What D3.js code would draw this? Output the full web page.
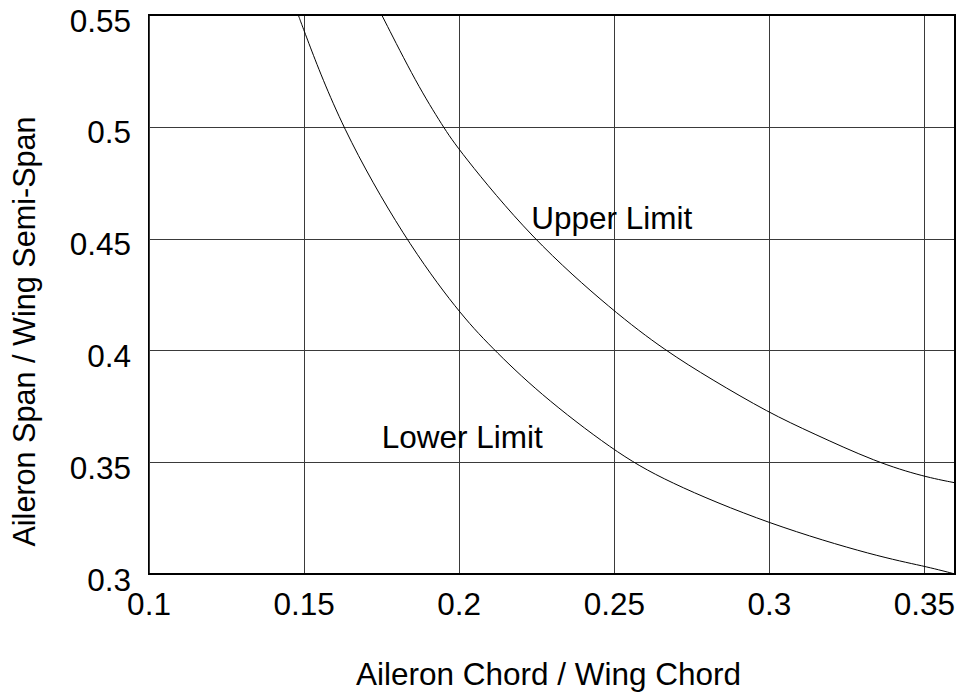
<!DOCTYPE html>
<meta charset="utf-8">
<style>
body { margin: 0; background: #fff; }
svg { display: block; }
text { font-family: "Liberation Sans", Arial, Helvetica, sans-serif; fill: #000; }
.grid line { stroke: #3a3a3a; stroke-width: 1px; shape-rendering: crispEdges; }
.grid path { display: none; }
.curve { fill: none; stroke: #000; stroke-width: 1px; }
.frame { fill: none; stroke: #000; stroke-width: 1.5px; shape-rendering: crispEdges; }
</style>
<svg width="956" height="692"></svg>
<script src="https://cdn.jsdelivr.net/npm/d3@7"></script>
<script>

// values
var xTicks = [0.1, 0.15, 0.2, 0.25, 0.3, 0.35],
    xTickLabels = ["0.1", "0.15", "0.2", "0.25", "0.3", "0.35"];
var yTicks = [0.3, 0.35, 0.4, 0.45, 0.5, 0.55],
    yTickLabels = ["0.3", "0.35", "0.4", "0.45", "0.5", "0.55"];

var lowerX = [0.1483, 0.15, 0.162, 0.1825, 0.2, 0.2101, 0.2256, 0.25, 0.2664, 0.3, 0.3352, 0.35, 0.36];
var lowerY = [0.55, 0.5434, 0.50, 0.45, 0.4170, 0.402, 0.3811, 0.355, 0.3416, 0.3222, 0.3077, 0.3036, 0.30];

var upperX = [0.1752, 0.1865, 0.195, 0.2, 0.2234, 0.25, 0.2665, 0.2814, 0.3, 0.3137, 0.3346, 0.35, 0.36];
var upperY = [0.55, 0.5191, 0.50, 0.4896, 0.45, 0.4173, 0.40, 0.3871, 0.3721, 0.3632, 0.35, 0.3435, 0.3408];

var labelNames = ["Upper Limit", "Lower Limit"],
    labelX = [0.2234, 0.1752],
    labelY = [0.4542, 0.3562];

var svg = d3.select("svg"),
    margin = {top: 15, right: 1, bottom: 118, left: 148.5},
    width = +svg.attr("width") - margin.left - margin.right,
    height = +svg.attr("height") - margin.top - margin.bottom,
    g = svg.append("g").attr("transform", "translate(" + margin.left + "," + margin.top + ")");

var x = d3.scaleLinear().domain([0.1, 0.36]).range([0, width]);
var y = d3.scaleLinear().domain([0.3, 0.55]).range([height, 0]);

// grid lines with tick labels
var xAxis = g.append("g")
    .attr("class", "grid")
    .attr("transform", "translate(0," + height + ")")
    .call(d3.axisBottom(x)
      .tickValues(xTicks)
      .tickSize(-height)
      .tickFormat(function(d, i) { return xTickLabels[i]; }));
xAxis.selectAll("text")
    .attr("y", 41)
    .attr("dy", 0)
    .style("font-size", "31.5px");

var yAxis = g.append("g")
    .attr("class", "grid")
    .call(d3.axisLeft(y)
      .tickValues(yTicks)
      .tickSize(-width)
      .tickFormat(function(d, i) { return yTickLabels[i]; }));
yAxis.selectAll("text")
    .attr("x", -17.5)
    .attr("dy", 0)
    .attr("y", 16)
    .style("font-size", "31.5px");

g.append("clipPath").attr("id", "clip")
  .append("rect").attr("width", width).attr("height", height);

var line = d3.line()
    .x(function(d) { return x(d[0]); })
    .y(function(d) { return y(d[1]); })
    .curve(d3.curveBasis);

g.append("path")
    .attr("class", "curve")
    .attr("clip-path", "url(#clip)")
    .attr("d", line(d3.zip(lowerX, lowerY)));

g.append("path")
    .attr("class", "curve")
    .attr("clip-path", "url(#clip)")
    .attr("d", line(d3.zip(upperX, upperY)));

g.append("rect")
    .attr("class", "frame")
    .attr("width", width)
    .attr("height", height);

g.selectAll(".curve-label")
    .data(labelNames)
  .enter().append("text")
    .attr("class", "curve-label")
    .attr("x", function(d, i) { return x(labelX[i]); })
    .attr("y", function(d, i) { return y(labelY[i]); })
    .style("font-size", "31.5px")
    .text(function(d) { return d; });

svg.append("text")
    .attr("x", 548.5)
    .attr("y", 685)
    .attr("text-anchor", "middle")
    .style("font-size", "31.5px")
    .text("Aileron Chord / Wing Chord");

svg.append("text")
    .attr("transform", "translate(35,331.5) rotate(-90)")
    .attr("text-anchor", "middle")
    .style("font-size", "30.6px")
    .text("Aileron Span / Wing Semi-Span");

</script>
